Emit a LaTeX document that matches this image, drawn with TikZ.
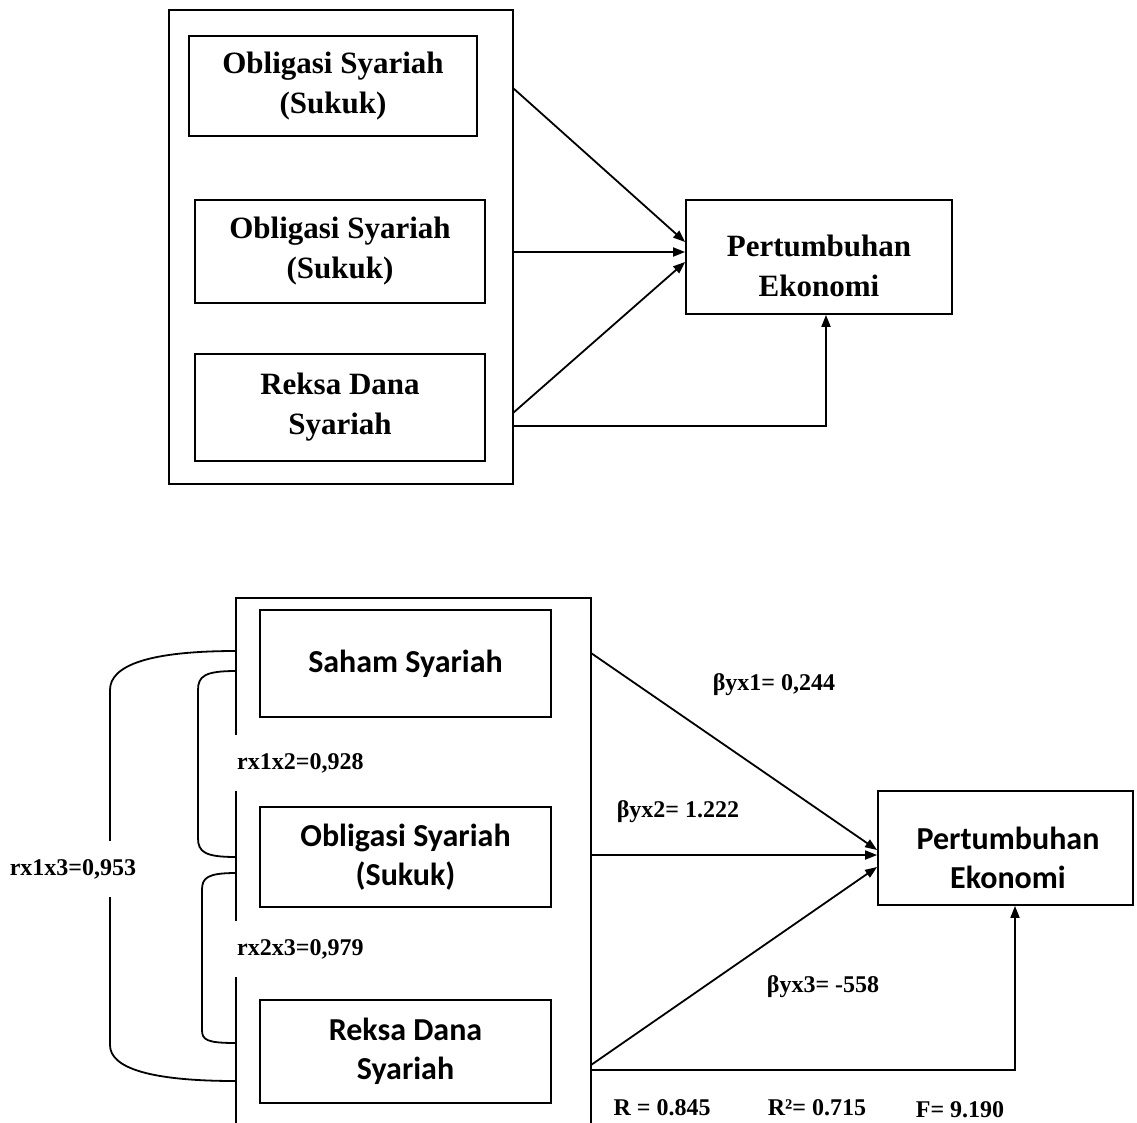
\documentclass[tikz,border=0pt]{standalone}
\usepackage{fontspec}
\setmainfont{Liberation Serif}
\newfontfamily\carlitofont{Carlito}
\usetikzlibrary{arrows.meta}
\tikzset{
  frame/.style={draw, line width=1.8pt, inner sep=0pt, align=center},
  ttext/.style={font=\fontsize{31}{40}\selectfont\bfseries, align=center, inner sep=0pt},
  stext/.style={font=\carlitofont\fontsize{32}{39}\selectfont\bfseries, align=center, inner sep=0pt},
  tbox/.style={frame, font=\fontsize{31}{40}\selectfont\bfseries},
  sbox/.style={frame, font=\carlitofont\fontsize{32}{39}\selectfont\bfseries},
  lab/.style={font=\fontsize{24}{28}\selectfont\bfseries, inner sep=0pt},
  arr/.style={-{Triangle[length=12pt,width=9pt]}, line width=1.8pt},
  link/.style={line width=1.8pt},
}
\begin{document}
\begin{tikzpicture}[x=1pt,y=-1pt]
\useasboundingbox (0,0) rectangle (1137,1122);
\clip (0,0) rectangle (1137,1122);
% ---------- top diagram ----------
\node[frame, minimum width=344pt, minimum height=474pt] (outerA) at (341,247) {};
\node[tbox, minimum width=288pt, minimum height=100pt] (a1) at (333,86) {Obligasi Syariah\\(Sukuk)};
\node[tbox, minimum width=290pt, minimum height=103pt] (a2) at (340,251.5) {Obligasi Syariah\\(Sukuk)};
\node[tbox, minimum width=290pt, minimum height=107pt] (a3) at (340,407.5) {Reksa Dana\\Syariah};
\node[frame, minimum width=266pt, minimum height=114pt] (yA) at (819,257) {};
\node[ttext] (yAt) at (819,266) {Pertumbuhan\\Ekonomi};
\coordinate (sa1) at (513,88);
\coordinate (sa2) at (513,252);
\coordinate (sa3) at (513,413);
\coordinate (sa4) at (513,426);
\draw[arr] (sa1) -- ([yshift=15pt]yA.west);
\draw[arr] (sa2) -- ([yshift=5pt]yA.west);
\draw[arr] (sa3) -- ([yshift=-5pt]yA.west);
\draw[arr] (sa4) -| ([xshift=7pt]yA.south);
% ---------- bottom diagram ----------
\node[frame, minimum width=355pt, minimum height=560pt] (outerB) at (413.5,878) {};
\node[sbox, minimum width=291pt, minimum height=107pt] (x1) at (405.5,663.5) {Saham Syariah};
\node[sbox, minimum width=291pt, minimum height=100pt] (x2) at (405.5,857) {Obligasi Syariah\\(Sukuk)};
\node[sbox, minimum width=291pt, minimum height=103pt] (x3) at (405.5,1051.5) {Reksa Dana\\Syariah};
\node[frame, minimum width=255pt, minimum height=114pt] (yB) at (1005.5,848) {};
\node[stext] (yBt) at (1008,858) {Pertumbuhan\\Ekonomi};
\coordinate (sb1) at (591,653);
\coordinate (sb2) at (591,855);
\coordinate (sb3) at (591,1065);
\coordinate (sb4) at (591,1070);
\draw[arr] (sb1) -- ([yshift=-2pt]yB.west);
\draw[arr] (sb2) -- ([yshift=-7pt]yB.west);
\draw[arr] (sb3) -- ([yshift=-19pt]yB.west);
\draw[arr] (sb4) -| ([xshift=9.5pt]yB.south);
% correlation brackets
\draw[link] (236,651) .. controls (150,651) and (110,665) .. (110,690) -- (110,1045) .. controls (110,1068) and (150,1081) .. (236,1081);
\draw[link] (236,671) .. controls (205,671) and (198,676) .. (198,690) -- (198,838) .. controls (198,852) and (205,857) .. (236,857);
\draw[link] (236,873) .. controls (207,873) and (202,878) .. (202,890) -- (202,1030) .. controls (202,1040) and (207,1043) .. (236,1043);
% labels
\node[lab, fill=white, minimum height=56pt, anchor=west, inner xsep=3pt] (r12) at (234,763) {rx1x2=0,928};
\node[lab, fill=white, minimum height=56pt, anchor=west, inner xsep=3pt] (r23) at (234,949) {rx2x3=0,979};
\node[lab, fill=white, minimum height=56pt] (r13) at (73,869) {rx1x3=0,953};
\node[lab] (by1) at (774,685) {βyx1= 0,244};
\node[lab] (by2) at (678,812) {βyx2= 1.222};
\node[lab] (by3) at (823,987) {βyx3= -558};
\node[lab] (rr) at (662,1108) {R = 0.845};
\node[lab] (rsq) at (817,1108) {R²= 0.715};
\node[lab] (ff) at (960,1110) {F= 9.190};
\end{tikzpicture}
\end{document}
